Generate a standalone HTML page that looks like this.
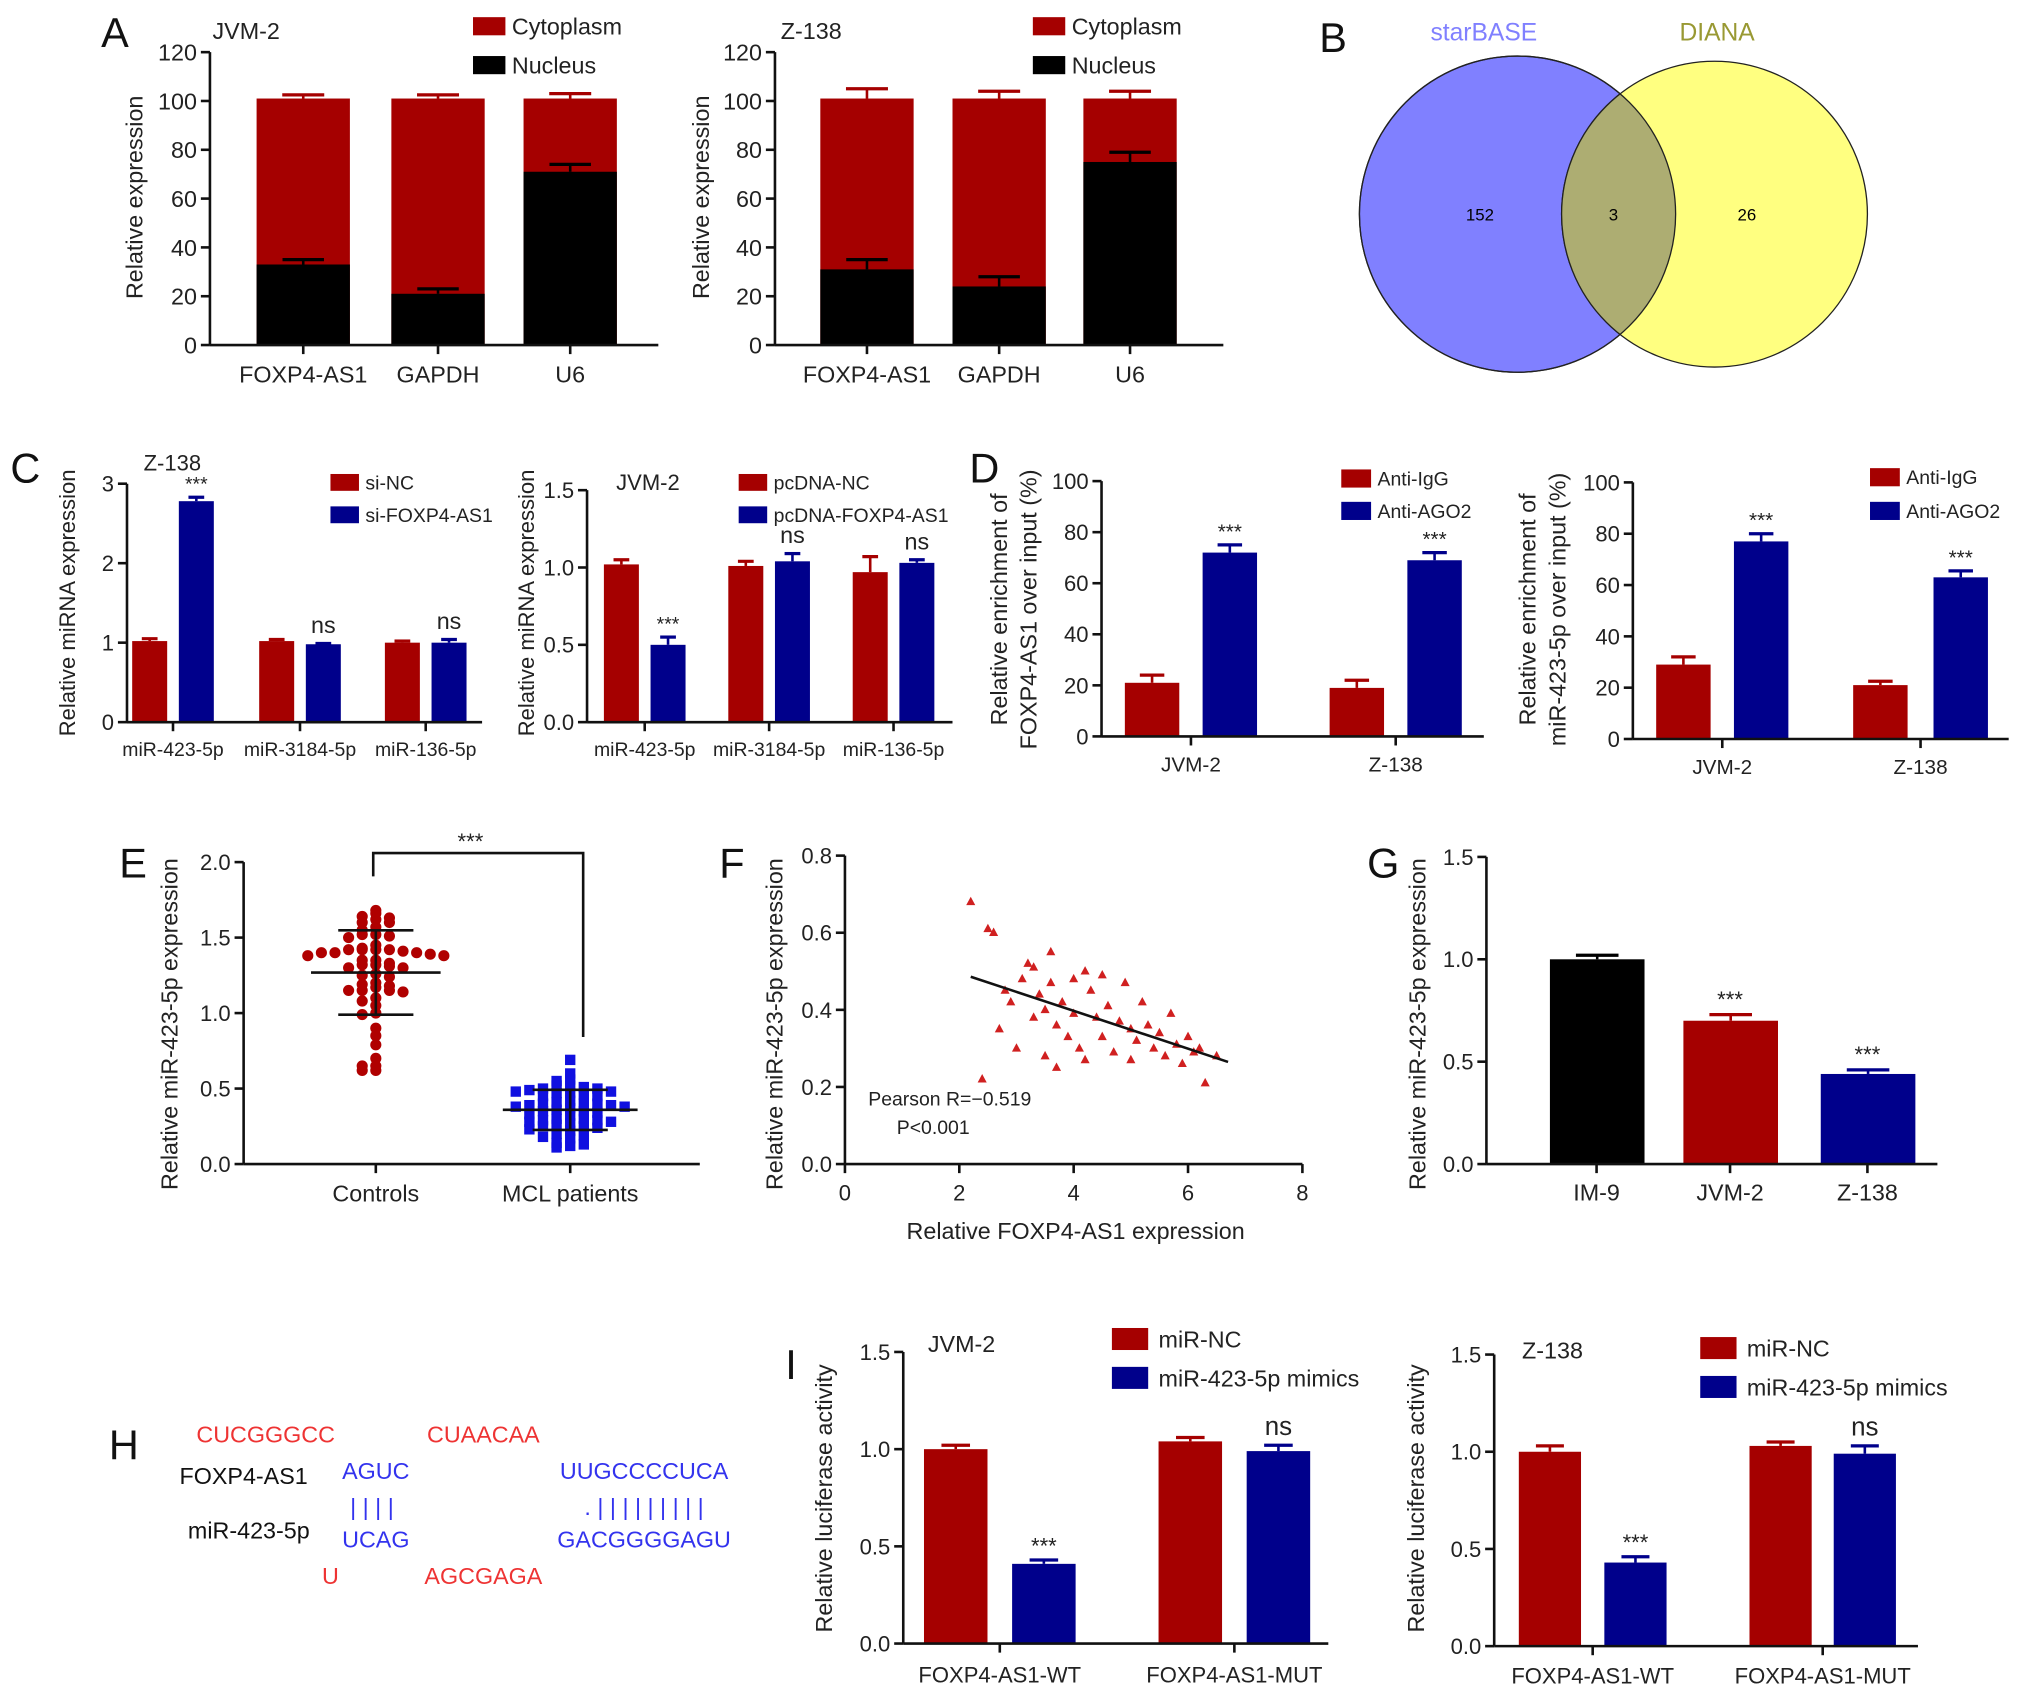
<!DOCTYPE html>
<html><head><meta charset="utf-8"><style>
html,body{margin:0;padding:0;background:#fff}
svg{display:block}
text{font-family:"Liberation Sans",Arial,sans-serif}
</style></head><body>
<svg id="fig" xmlns="http://www.w3.org/2000/svg" width="2032" height="1697" viewBox="0 0 1568 1309">
<rect width="1568" height="1309" fill="#fff"/>
<g>
<circle cx="1171" cy="165" r="122" fill="#8080ff" stroke="#222" stroke-width="1"/>
<circle cx="1323" cy="165" r="118" fill="#ffff80" stroke="#222" stroke-width="1"/>
<clipPath id="cl"><circle cx="1171" cy="165" r="122"/></clipPath>
<circle cx="1323" cy="165" r="118" fill="#adad72" stroke="#222" stroke-width="1" clip-path="url(#cl)"/>
<circle cx="1171" cy="165" r="122" fill="none" stroke="#222" stroke-width="1"/>
<text x="1145" y="31" font-size="19" fill="#8080ff" text-anchor="middle">starBASE</text>
<text x="1325" y="31" font-size="19" fill="#999933" text-anchor="middle">DIANA</text>
<text x="1142" y="170" font-size="13" font-family="Liberation Serif" text-anchor="middle">152</text>
<text x="1245" y="170" font-size="13" font-family="Liberation Serif" text-anchor="middle">3</text>
<text x="1348" y="170" font-size="13" font-family="Liberation Serif" text-anchor="middle">26</text>
</g>
<g font-size="18">
<text x="205" y="1113" fill="#ee3333" text-anchor="middle">CUCGGGCC</text>
<text x="373" y="1113" fill="#ee3333" text-anchor="middle">CUAACAA</text>
<text x="188" y="1145" fill="#111" text-anchor="middle">FOXP4-AS1</text>
<text x="290" y="1141" fill="#3333ee" text-anchor="middle">AGUC</text>
<text x="497" y="1141" fill="#3333ee" text-anchor="middle">UUGCCCCUCA</text>
<text x="287" y="1169" fill="#3333ee" text-anchor="middle">| | | |</text>
<text x="497" y="1169" fill="#3333ee" text-anchor="middle">. | | | | | | | | |</text>
<text x="192" y="1187" fill="#111" text-anchor="middle">miR-423-5p</text>
<text x="290" y="1194" fill="#3333ee" text-anchor="middle">UCAG</text>
<text x="497" y="1194" fill="#3333ee" text-anchor="middle">GACGGGGAGU</text>
<text x="255" y="1222" fill="#ee3333" text-anchor="middle">U</text>
<text x="373" y="1222" fill="#ee3333" text-anchor="middle">AGCGAGA</text>
</g>
</svg>
<script>
// ---- data ----
const aCats = ["FOXP4-AS1","GAPDH","U6"];
const aJvmNucleus = [33,21,71];
const aJvmNucErr = [35,23,74];
const aJvmTotal = [101,101,101];
const aJvmTotErr = [102.5,102.5,103];
const aZNucleus = [31,24,75];
const aZNucErr = [35,28,79];
const aZTotal = [101,101,101];
const aZTotErr = [105,104,104];
const aTicks = [0,20,40,60,80,100,120];

const cCats = ["miR-423-5p","miR-3184-5p","miR-136-5p"];
const cSiNC = [1.02,1.02,1.0];
const cSiNCErr = [0.03,0.02,0.02];
const cSiFox = [2.78,0.98,1.0];
const cSiFoxErr = [0.05,0.01,0.04];
const cSiSig = ["***","ns","ns"];
const cLeftTicks = [0,1,2,3];
const cPcNC = [1.02,1.01,0.97];
const cPcNCErr = [0.03,0.03,0.1];
const cPcFox = [0.5,1.04,1.03];
const cPcFoxErr = [0.05,0.05,0.02];
const cPcSig = ["***","ns","ns"];
const cRightTicks = [0,0.5,1.0,1.5];

const dCats = ["JVM-2","Z-138"];
const dFoxIgG = [21,19];
const dFoxIgGErr = [3,3];
const dFoxAgo = [72,69];
const dFoxAgoErr = [3,3];
const dMirIgG = [29,21];
const dMirIgGErr = [3,1.5];
const dMirAgo = [77,63];
const dMirAgoErr = [3,2.5];
const dTicks = [0,20,40,60,80,100];

const eControls = [1.68,1.66,1.64,1.63,1.62,1.60,1.60,1.57,1.55,1.52,1.52,1.51,1.50,1.45,1.43,1.42,1.42,1.42,1.42,1.41,1.40,1.40,1.40,1.39,1.38,1.38,1.35,1.35,1.33,1.32,1.32,1.31,1.30,1.30,1.26,1.25,1.24,1.20,1.19,1.18,1.17,1.15,1.15,1.15,1.14,1.10,1.08,1.05,1.00,0.99,0.90,0.85,0.79,0.70,0.65,0.65,0.62,0.62];
const ePatients = [0.69,0.60,0.56,0.55,0.52,0.52,0.51,0.50,0.50,0.49,0.48,0.48,0.47,0.47,0.46,0.45,0.45,0.42,0.41,0.40,0.40,0.40,0.39,0.39,0.38,0.38,0.37,0.36,0.35,0.35,0.34,0.33,0.32,0.30,0.30,0.29,0.29,0.28,0.28,0.27,0.26,0.25,0.25,0.24,0.23,0.22,0.20,0.19,0.18,0.17,0.14,0.13,0.12,0.11];
const eCats = ["Controls","MCL patients"];
const eTicks = [0,0.5,1.0,1.5,2.0];

const fX = [2.2,2.5,2.6,2.7,2.8,2.9,3.0,3.1,3.2,3.3,3.3,3.4,3.5,3.5,3.6,3.7,3.7,3.8,3.9,4.0,4.0,4.1,4.2,4.2,4.3,4.4,4.5,4.5,4.6,4.7,4.8,4.9,5.0,5.0,5.1,5.2,5.3,5.4,5.5,5.6,5.7,5.8,5.9,6.0,6.1,6.2,6.3,6.5,2.4,3.6];
const fY = [0.68,0.61,0.60,0.35,0.45,0.42,0.30,0.48,0.52,0.51,0.38,0.44,0.40,0.28,0.47,0.36,0.25,0.42,0.33,0.48,0.39,0.30,0.50,0.27,0.45,0.38,0.49,0.33,0.41,0.29,0.37,0.47,0.35,0.27,0.32,0.42,0.36,0.30,0.34,0.28,0.39,0.31,0.26,0.33,0.29,0.30,0.21,0.28,0.22,0.55];
const fXTicks = [0,2,4,6,8];
const fYTicks = [0,0.2,0.4,0.6,0.8];

const gCats = ["IM-9","JVM-2","Z-138"];
const gVals = [1.0,0.70,0.44];
const gErrs = [0.02,0.03,0.02];
const gSig = ["","***","***"];
const gTicks = [0,0.5,1.0,1.5];

const iCats = ["FOXP4-AS1-WT","FOXP4-AS1-MUT"];
const iJvmNC = [1.0,1.04];
const iJvmNCErr = [0.02,0.02];
const iJvmMim = [0.41,0.99];
const iJvmMimErr = [0.02,0.03];
const iZNC = [1.0,1.03];
const iZNCErr = [0.03,0.02];
const iZMim = [0.43,0.99];
const iZMimErr = [0.03,0.04];
const iSig = ["***","ns"];
const iTicks = [0,0.5,1.0,1.5];

// ---- helpers ----
const svg = document.getElementById('fig');
const NS = "http://www.w3.org/2000/svg";
const RED = "#a50000", BLUE = "#00008b";
function el(tag, attrs, parent, txt){
  const e = document.createElementNS(NS, tag);
  for (const k in attrs) e.setAttribute(k, attrs[k]);
  if (txt !== undefined) e.textContent = txt;
  (parent||svg).appendChild(e);
  return e;
}
function lin(d0,d1,r0,r1){ return v => r0 + (v-d0)/(d1-d0)*(r1-r0); }
function yAxis(g, x, y, ticks, fmt, fs, x2){
  const a = el('line',{x1:x,y1:y(ticks[0]),x2:x,y2:y(ticks[ticks.length-1]),stroke:'#111','stroke-width':2},g);
  
  
  ticks.forEach(t=>{
    el('line',{x1:x-7,y1:y(t),x2:x,y2:y(t),stroke:'#111','stroke-width':2},g);
    const tx = el('text',{x:x-10,y:y(t)+fs*0.36,'font-size':fs,'text-anchor':'end',fill:'#222'},g,fmt(t));
    
    
  });
  const b = el('line',{x1:x,y1:y(ticks[0]),x2:x2,y2:y(ticks[0]),stroke:'#111','stroke-width':2},g);
  
  
}
function ytitle(g, x, cy, txt, fs){
  const t = el('text',{x:x,y:cy,'font-size':fs,'text-anchor':'middle',fill:'#222',transform:`rotate(-90 ${x} ${cy})`},g,txt);
  
  
}
function label(g,x,y,txt,fs,anchor,name,color){
  const t = el('text',{x:x,y:y,'font-size':fs,'text-anchor':anchor||'middle',fill:color||'#222'},g,txt);
  
  
  return t;
}
function bar(g,x,w,y,v,err,color,name){
  const r = el('rect',{x:x,y:y(v),width:w,height:y(0)-y(v),fill:color},g);
  
  
  if (err!==null){
    const top = y(v+err), cw = w*0.45;
    el('line',{x1:x+w/2,y1:y(v),x2:x+w/2,y2:top,stroke:color,'stroke-width':2},g);
    el('line',{x1:x+w/2-cw/2,y1:top,x2:x+w/2+cw/2,y2:top,stroke:color,'stroke-width':2.5},g);
  }
}
function legend(g,x,y,color,txt,fs,w,h,gap){
  const r = el('rect',{x:x,y:y-h/2,width:w,height:h,fill:color},g);
  
  
  label(g,x+w+(gap||5),y+fs*0.36,txt,fs,'start','legend-entry');
}
function panelLetter(x,y,t){ label(svg,x,y,t,32,'start','panel-letter-'+t.toLowerCase(),'#111'); }
function group(name){ const g = el('g',{});   return g; }

// ---- Panel A ----
function panelA(name, ax, title, nuc, nucErr, tot, totErr, barXs, lx, tx){
  const g = group(name);
  const y = lin(0,120,266,40);
  tot.forEach((v,i)=>{ bar(g,barXs[i],72,y,v,totErr[i]-v,RED,'bar-cytoplasm'); });
  nuc.forEach((v,i)=>{
    bar(g,barXs[i],72,y,v,null,'#000','bar-nucleus');
    const t=y(nucErr[i]); el('line',{x1:barXs[i]+36,y1:y(v),x2:barXs[i]+36,y2:t,stroke:'#000','stroke-width':2},g);
    el('line',{x1:barXs[i]+20,y1:t,x2:barXs[i]+52,y2:t,stroke:'#000','stroke-width':2.5},g);
  });
  yAxis(g,ax,y,aTicks,t=>String(t),18,ax+346);
  aCats.forEach((c,i)=>{ const cx=barXs[i]+36; el('line',{x1:cx,y1:266,x2:cx,y2:273,stroke:'#111','stroke-width':2},g); label(g,cx,295,c,18,'middle','x-tick-label'); });
  ytitle(g,tx,152,'Relative expression',18);
  label(g,ax+28,30,title,18,'middle','chart-title');
  legend(g,lx,20,RED,'Cytoplasm',18,25,14);
  legend(g,lx,50,'#000','Nucleus',18,25,14);
}
panelA('chart-a-jvm2',162,'JVM-2',aJvmNucleus,aJvmNucErr,aJvmTotal,aJvmTotErr,[198,302,404],365,110);
panelA('chart-a-z138',598,'Z-138',aZNucleus,aZNucErr,aZTotal,aZTotErr,[633,735,836],797,547);
panelLetter(78,36,'A'); panelLetter(1018,40,'B');

// ---- Panel C ----
function groupedBars(name, ax, y, ticks, fmt, fs, xEnd, cats, s1, e1, s2, e2, sig, x1s, x2s, w, labY, sigFs){
  const g = group(name);
  s1.forEach((v,i)=>bar(g,x1s[i],w,y,v,e1[i],RED,'bar-series-1'));
  s2.forEach((v,i)=>{
    bar(g,x2s[i],w,y,v,e2[i],BLUE,'bar-series-2');
    if (sig[i]) label(g,x2s[i]+w/2,y(v+e2[i])-(sig[i]==='ns'?8:5),sig[i],sig[i]==='ns'?fs+3:fs,'middle','significance-label');
  });
  yAxis(g,ax,y,ticks,fmt,fs+(sigFs||0),xEnd);
  cats.forEach((c,i)=>{ const cx=(x1s[i]+x2s[i]+w)/2; el('line',{x1:cx,y1:y(0),x2:cx,y2:y(0)+7,stroke:'#111','stroke-width':2},g); label(g,cx,labY,c,fs,'middle','x-tick-label'); });
  return g;
}
let g = groupedBars('chart-c-z138',98,lin(0,3,557,373),cLeftTicks,t=>String(t),15,372,cCats,cSiNC,cSiNCErr,cSiFox,cSiFoxErr,cSiSig,[102,200,297],[138,236,333],27,583,2);
ytitle(g,58,465,'Relative miRNA expression',17);
label(g,133,363,'Z-138',17,'middle','chart-title');
legend(g,255,372,RED,'si-NC',15,22,13);
legend(g,255,397,BLUE,'si-FOXP4-AS1',15,22,13);
g = groupedBars('chart-c-jvm2',453,lin(0,1.5,557,378),cRightTicks,t=>t.toFixed(1),15,735,cCats,cPcNC,cPcNCErr,cPcFox,cPcFoxErr,cPcSig,[466,562,658],[502,598,694],27,583,2);
ytitle(g,412,465,'Relative miRNA expression',17);
label(g,500,378,'JVM-2',17,'middle','chart-title');
legend(g,570,372,RED,'pcDNA-NC',15,22,13);
legend(g,570,397,BLUE,'pcDNA-FOXP4-AS1',15,22,13);
panelLetter(8,372,'C');

// ---- Panel D ----
g = groupedBars('chart-d-foxp4',850,lin(0,100,568,371),dTicks,t=>String(t),16,1145,dCats,dFoxIgG,dFoxIgGErr,dFoxAgo,dFoxAgoErr,["***","***"],[868,1026],[928,1086],42,595,1);
ytitle(g,777,470,'Relative enrichment of',18);
ytitle(g,800,470,'FOXP4-AS1 over input (%)',18);
legend(g,1035,369,RED,'Anti-IgG',15,23,14);
legend(g,1035,394,BLUE,'Anti-AGO2',15,23,14);
g = groupedBars('chart-d-mir423',1260,lin(0,100,570,372),dTicks,t=>String(t),16,1550,dCats,dMirIgG,dMirIgGErr,dMirAgo,dMirAgoErr,["***","***"],[1278,1430],[1338,1492],42,597,1);
ytitle(g,1185,470,'Relative enrichment of',18);
ytitle(g,1208,470,'miR-423-5p over input (%)',18);
legend(g,1443,368,RED,'Anti-IgG',15,23,14);
legend(g,1443,394,BLUE,'Anti-AGO2',15,23,14);
panelLetter(748,372,'D');

// ---- Panel E ----
g = group('chart-e-scatter');
const yE = lin(0,2,898,665);
const eCx = [290,440];
function swarm(vals, cx, shape, color, mw){
  const bins = {};
  vals.forEach(v=>{
    const k = Math.round(v/0.05);
    const n = bins[k]||0; bins[k]=n+1;
    const off = (n%2===0?1:-1)*Math.ceil(n/2)*10.5 + ((n%2===1)?0:0);
    const x = cx+off, yy = yE(v);
    let m;
    if (shape==='circle') m = el('circle',{cx:x,cy:yy,r:4.3,fill:color},g);
    else m = el('rect',{x:x-4,y:yy-4,width:8,height:8,fill:color},g);
    
    
  });
  const mean = vals.reduce((a,b)=>a+b,0)/vals.length;
  const sd = Math.sqrt(vals.reduce((a,b)=>a+(b-mean)**2,0)/(vals.length-1));
  el('line',{x1:cx-mw,y1:yE(mean),x2:cx+mw,y2:yE(mean),stroke:'#111','stroke-width':2},g);
  el('line',{x1:cx,y1:yE(mean-sd),x2:cx,y2:yE(mean+sd),stroke:'#111','stroke-width':2},g);
  el('line',{x1:cx-29,y1:yE(mean-sd),x2:cx+29,y2:yE(mean-sd),stroke:'#111','stroke-width':2},g);
  el('line',{x1:cx-29,y1:yE(mean+sd),x2:cx+29,y2:yE(mean+sd),stroke:'#111','stroke-width':2},g);
}
swarm(eControls,eCx[0],'circle','#b00000',50);
swarm(ePatients,eCx[1],'square','#1010e0',52);
yAxis(g,188,yE,eTicks,t=>t.toFixed(1),17,540);
eCats.forEach((c,i)=>{ el('line',{x1:eCx[i],y1:898,x2:eCx[i],y2:905,stroke:'#111','stroke-width':2},g); label(g,eCx[i],927,c,18,'middle','x-tick-label'); });
ytitle(g,137,790,'Relative miR-423-5p expression',18);
el('polyline',{points:'288,676 288,658 450,658 450,800',fill:'none',stroke:'#111','stroke-width':2},g);
label(g,363,655,'***',17,'middle','significance-label');
panelLetter(92,677,'E');

// ---- Panel F ----
g = group('chart-f-correlation');
const xF = lin(0,8,652,1005), yF = lin(0,0.8,898,660);
fX.forEach((xv,i)=>{
  const px=xF(xv), py=yF(fY[i]);
  const t = el('polygon',{points:`${px},${py-4} ${px-3.5},${py+2.5} ${px+3.5},${py+2.5}`,fill:'#d02020'},g);
  
  
});
const mx = fX.reduce((a,b)=>a+b,0)/fX.length, my = fY.reduce((a,b)=>a+b,0)/fY.length;
let sxy=0,sxx=0; fX.forEach((xv,i)=>{sxy+=(xv-mx)*(fY[i]-my); sxx+=(xv-mx)**2;});
const slope = sxy/sxx, icpt = my-slope*mx;
const xmin=Math.min(...fX), xmax=Math.max(...fX)+0.2;
const rl = el('line',{x1:xF(xmin),y1:yF(icpt+slope*xmin),x2:xF(xmax),y2:yF(icpt+slope*xmax),stroke:'#111','stroke-width':2},g);


yAxis(g,652,yF,fYTicks,t=>t.toFixed(1),17,1005);
fXTicks.forEach(t=>{ el('line',{x1:xF(t),y1:898,x2:xF(t),y2:905,stroke:'#111','stroke-width':2},g); label(g,xF(t),926,String(t),17,'middle','x-tick-label'); });
label(g,830,956,'Relative FOXP4-AS1 expression',18,'middle','x-axis-title');
ytitle(g,604,790,'Relative miR-423-5p expression',18);
label(g,670,853,'Pearson R=\u22120.519',15,'start','stat-label');
label(g,692,875,'P<0.001',15,'start','stat-label');
panelLetter(555,677,'F');

// ---- Panel G ----
g = group('chart-g-cell-lines');
const yG = lin(0,1.5,898,661);
const gX = [1196,1299,1405], gCol = ['#000',RED,BLUE];
gVals.forEach((v,i)=>{
  bar(g,gX[i],73,yG,v,gErrs[i],gCol[i],'bar-'+gCats[i].toLowerCase());
  if (gSig[i]) label(g,gX[i]+36,yG(v+gErrs[i])-6,gSig[i],17,'middle','significance-label');
  el('line',{x1:gX[i]+36,y1:898,x2:gX[i]+36,y2:905,stroke:'#111','stroke-width':2},g);
  label(g,gX[i]+36,926,gCats[i],18,'middle','x-tick-label');
});
yAxis(g,1147,yG,gTicks,t=>t.toFixed(1),17,1495);
ytitle(g,1100,790,'Relative miR-423-5p expression',18);
panelLetter(1055,677,'G');
panelLetter(84,1126,'H');

// ---- Panel I ----
g = groupedBars('chart-i-jvm2',697,lin(0,1.5,1268,1043),iTicks,t=>t.toFixed(1),17,1025,iCats,iJvmNC,iJvmNCErr,iJvmMim,iJvmMimErr,iSig,[713,894],[781,962],49,1298,0);
ytitle(g,642,1156,'Relative luciferase activity',18);
label(g,742,1043,'JVM-2',18,'middle','chart-title');
legend(g,858,1033,RED,'miR-NC',18,28,17,8);
legend(g,858,1063,BLUE,'miR-423-5p mimics',18,28,17,8);
g = groupedBars('chart-i-z138',1153,lin(0,1.5,1270,1045),iTicks,t=>t.toFixed(1),17,1480,iCats,iZNC,iZNCErr,iZMim,iZMimErr,iSig,[1172,1350],[1238,1415],48,1299,0);
ytitle(g,1099,1156,'Relative luciferase activity',18);
label(g,1198,1048,'Z-138',18,'middle','chart-title');
legend(g,1312,1040,RED,'miR-NC',18,28,17,8);
legend(g,1312,1070,BLUE,'miR-423-5p mimics',18,28,17,8);
panelLetter(606,1064,'I');
</script>
</body></html>
